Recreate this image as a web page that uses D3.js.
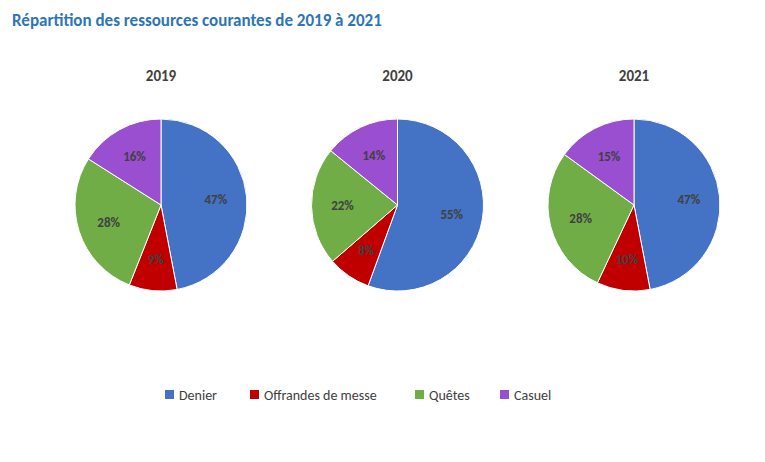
<!DOCTYPE html>
<html><head><meta charset="utf-8">
<script src="https://cdn.jsdelivr.net/npm/d3@7"></script>
<style>body{margin:0;background:#fff;font-family:Calibri,"Liberation Sans",Arial,sans-serif}</style>
</head><body>
<svg id="c" width="765" height="462"></svg>
<script>
const categories = ["Denier","Offrandes de messe","Quêtes","Casuel"];
const years = ["2019","2020","2021"];
const values2019 = [47,9,28,16];
const values2020 = [55,8,22,14];
const values2021 = [47,10,28,15];
const allValues = [values2019, values2020, values2021];
const colors = ["#4472c4","#c00000","#70ad47","#9a4fd0"];

const svg = d3.select("#c");
svg.append("text").attr("x",12).attr("y",26).attr("fill","#2e75b6")
  .attr("font-size",17).attr("font-weight","bold").text("Répartition des ressources courantes de 2019 à 2021");

const centers = d3.scalePoint().domain(years).range([161,634]);
const color = d3.scaleOrdinal().domain(categories).range(colors);
const r = 86;
const arc = d3.arc().innerRadius(0).outerRadius(r);
const labelArc = d3.arc().innerRadius(r*0.64).outerRadius(r*0.64);
const pie = d3.pie().sort(null).value(d=>d.v);

years.forEach((y,i)=>{
  const cx = centers(y), cy = 205;
  svg.append("text").attr("x",cx).attr("y",81).attr("text-anchor","middle")
    .attr("font-size",15).attr("font-weight","bold").attr("fill","#404040").text(y);
  const g = svg.append("g").attr("transform",`translate(${cx},${cy})`);
  const data = pie(categories.map((c,j)=>({c, v: allValues[i][j]})));
  g.selectAll("path").data(data).join("path").attr("d",arc)
    .attr("fill",d=>color(d.data.c)).attr("stroke","#fff").attr("stroke-width",1);
  g.selectAll("text").data(data).join("text")
    .attr("transform",d=>`translate(${labelArc.centroid(d)})`)
    .attr("text-anchor","middle").attr("dy","0.35em")
    .attr("font-size",13).attr("font-weight","bold").attr("fill","#404040")
    .text(d=>d.data.v+"%");
});

const legX = [165,250,415,500];
const lg = svg.selectAll("g.leg").data(categories).join("g").attr("class","leg")
  .attr("transform",(d,i)=>`translate(${legX[i]},395)`);
lg.append("rect").attr("x",0).attr("y",-5).attr("width",9).attr("height",9).attr("fill",d=>color(d));
lg.append("text").attr("x",14).attr("y",0).attr("dy","0.35em").attr("font-size",14).attr("fill","#404040").text(d=>d);
</script>
</body></html>
